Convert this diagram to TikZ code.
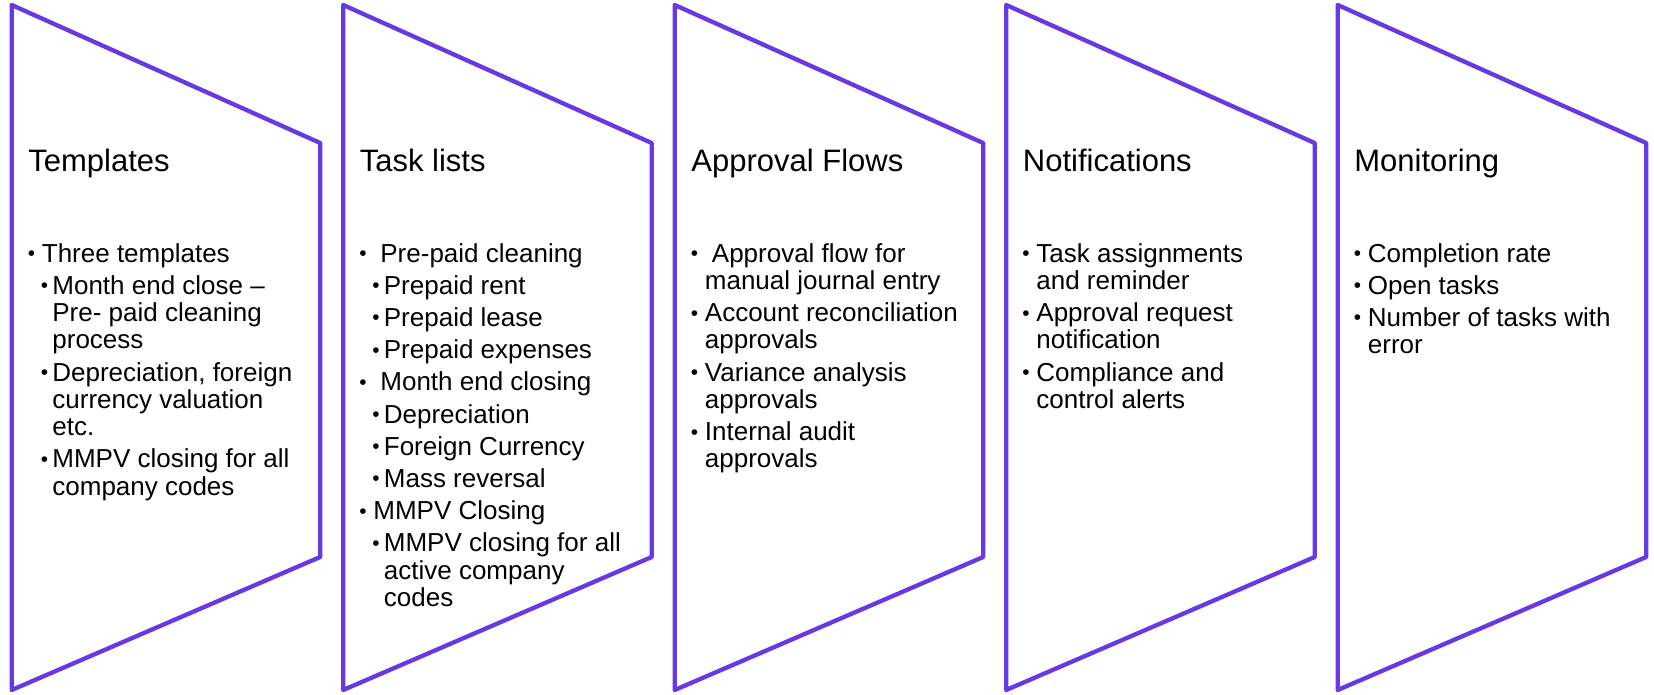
\documentclass[tikz,border=0pt]{standalone}
\usepackage{fontspec}
\setmainfont{Liberation Sans}
\usetikzlibrary{positioning}

\definecolor{panelviolet}{RGB}{104,56,228}

% bullets and continuation indents for the two list levels
\newcommand{\dotmark}{\raisebox{1.5pt}{\scalebox{0.8}{\textbullet}}}
\newcommand{\bA}{\hspace*{16pt}\makebox[14pt][l]{\dotmark}}
\newcommand{\cA}{\hspace*{30pt}}
\newcommand{\bB}{\hspace*{29pt}\makebox[11.5pt][l]{\dotmark}}
\newcommand{\cB}{\hspace*{40.5pt}}

\tikzset{
  panel/.style={draw=panelviolet,line width=4.3pt,line join=round},
  headline/.style={anchor=base west,inner sep=0pt,font=\fontsize{31}{37}\selectfont},
  bodylist/.style={anchor=base west,inner sep=0pt,font=\fontsize{26}{27.3}\selectfont}
}

\begin{document}
\begin{tikzpicture}[x=1pt,y=-1pt]
    \useasboundingbox (0,0) rectangle (1654,695);

    \draw[panel] (11.7,5) -- (320.2,143) -- (320.2,557) -- (11.7,690) -- cycle;
    \draw[panel] (343.2,5) -- (651.7,143) -- (651.7,557) -- (343.2,690) -- cycle;
    \draw[panel] (674.7,5) -- (983.2,143) -- (983.2,557) -- (674.7,690) -- cycle;
    \draw[panel] (1006.2,5) -- (1314.7,143) -- (1314.7,557) -- (1006.2,690) -- cycle;
    \draw[panel] (1337.7,5) -- (1646.2,143) -- (1646.2,557) -- (1337.7,690) -- cycle;

    \node[headline] (templates) at (28.2,172) {Templates};
    \node[headline] (tasklists) at (359.7,172) {Task lists};
    \node[headline] (approvals) at (691.2,172) {Approval Flows};
    \node[headline] (notifications) at (1022.7,172) {Notifications};
    \node[headline] (monitoring) at (1354.2,172) {Monitoring};

    \node[bodylist] (templates-list) at (11.7,262) {\begin{tabular}[t]{@{}l@{}}
        \bA Three templates\\[4.9pt]
        \bB Month end close --\\
        \cB Pre- paid cleaning\\
        \cB process\\[4.9pt]
        \bB Depreciation, foreign\\
        \cB currency valuation\\
        \cB etc.\\[4.9pt]
        \bB MMPV closing for all\\
        \cB company codes
      \end{tabular}};
    \node[bodylist] (tasklists-list) at (343.2,262) {\begin{tabular}[t]{@{}l@{}}
        \bA\hspace{7pt}Pre-paid cleaning\\[4.9pt]
        \bB Prepaid rent\\[4.9pt]
        \bB Prepaid lease\\[4.9pt]
        \bB Prepaid expenses\\[4.9pt]
        \bA\hspace{7pt}Month end closing\\[4.9pt]
        \bB Depreciation\\[4.9pt]
        \bB Foreign Currency\\[4.9pt]
        \bB Mass reversal\\[4.9pt]
        \bA MMPV Closing\\[4.9pt]
        \bB MMPV closing for all\\
        \cB active company\\
        \cB codes
      \end{tabular}};
    \node[bodylist] (approvals-list) at (674.7,262) {\begin{tabular}[t]{@{}l@{}}
        \bA\hspace{7pt}Approval flow for\\
        \cA manual journal entry\\[4.9pt]
        \bA Account reconciliation\\
        \cA approvals\\[4.9pt]
        \bA Variance analysis\\
        \cA approvals\\[4.9pt]
        \bA Internal audit\\
        \cA approvals
      \end{tabular}};
    \node[bodylist] (notifications-list) at (1006.2,262) {\begin{tabular}[t]{@{}l@{}}
        \bA Task assignments\\
        \cA and reminder\\[4.9pt]
        \bA Approval request\\
        \cA notification\\[4.9pt]
        \bA Compliance and\\
        \cA control alerts
      \end{tabular}};
    \node[bodylist] (monitoring-list) at (1337.7,262) {\begin{tabular}[t]{@{}l@{}}
        \bA Completion rate\\[4.9pt]
        \bA Open tasks\\[4.9pt]
        \bA Number of tasks with\\
        \cA error
      \end{tabular}};
\end{tikzpicture}
\end{document}
